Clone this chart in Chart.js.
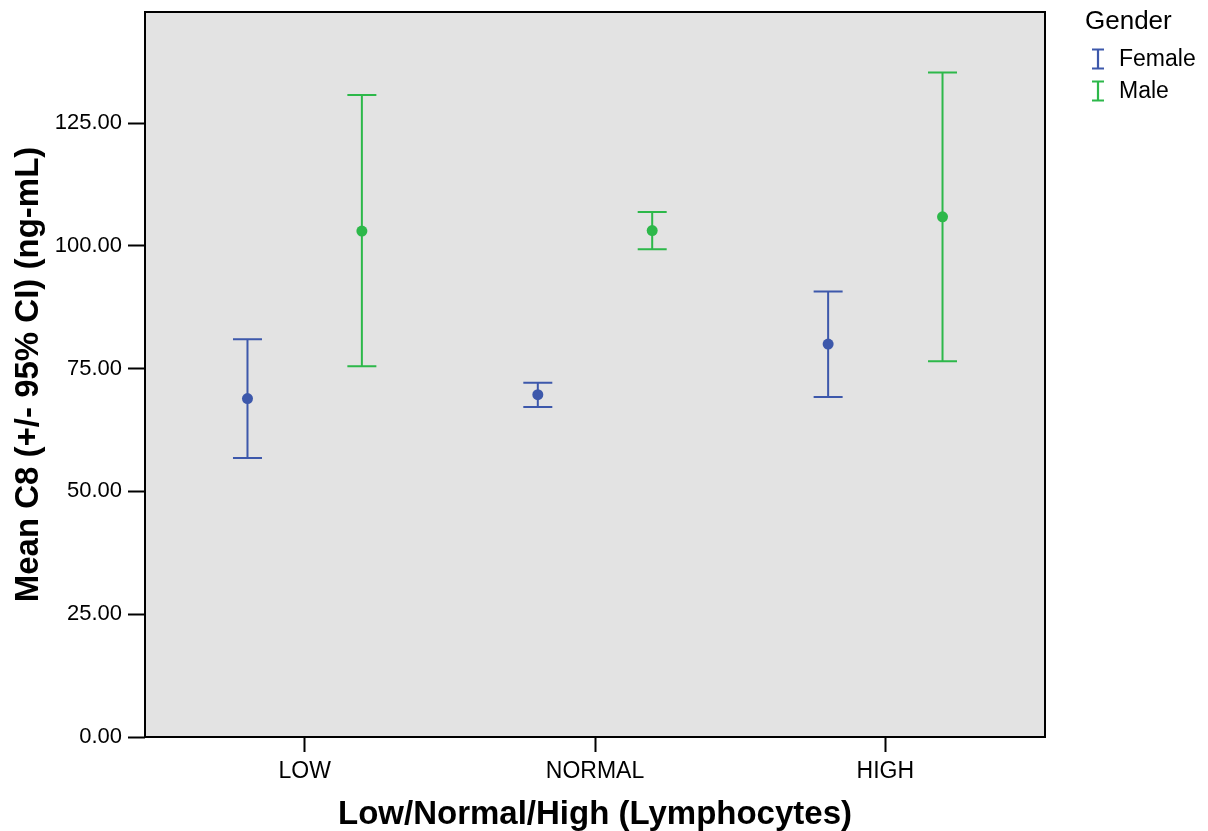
<!DOCTYPE html>
<html>
<head>
<meta charset="utf-8">
<script src="https://cdn.jsdelivr.net/npm/chart.js@4/dist/chart.umd.min.js"></script>
<style>
	html, body { margin: 0; padding: 0; background: #fff; }
</style>
</head>
<body>
<canvas id="chart" width="1208" height="831"></canvas>
<script>
// data
const categories = ['LOW', 'NORMAL', 'HIGH'];
const seriesNames = ['Female', 'Male'];
const femaleMean = [68.9, 69.7, 80.0];
const femaleLower = [56.8, 67.2, 69.2];
const femaleUpper = [81.0, 72.1, 90.7];
const maleMean = [103.0, 103.1, 105.9];
const maleLower = [75.5, 99.3, 76.5];
const maleUpper = [130.7, 106.9, 135.3];
const yTicks = [0, 25, 50, 75, 100, 125];

const blue = '#3d58ab';
const green = '#2db84a';
const font = '"Liberation Sans", Arial, sans-serif';

const toPoints = (mean, lower, upper, shift) =>
	categories.map((c, i) => ({ x: i + 1 + shift, y: mean[i], lo: lower[i], hi: upper[i] }));

// grey plot area + black frame
const frame = {
	id: 'frame',
	beforeDraw(chart) {
		const { ctx, chartArea: a } = chart;
		ctx.save();
		ctx.fillStyle = '#e3e3e3';
		ctx.fillRect(a.left, a.top, a.right - a.left, a.bottom - a.top);
		ctx.restore();
	},
	afterDraw(chart) {
		const { ctx, chartArea: a } = chart;
		ctx.save();
		ctx.strokeStyle = '#000';
		ctx.lineWidth = 2;
		ctx.strokeRect(a.left, a.top, a.right - a.left, a.bottom - a.top);
		ctx.restore();
	}
};

// 95% CI whiskers
const errorBars = {
	id: 'errorBars',
	beforeDatasetsDraw(chart) {
		const { ctx } = chart;
		const y = chart.scales.y;
		ctx.save();
		ctx.lineWidth = 2;
		chart.data.datasets.forEach((ds, di) => {
			const meta = chart.getDatasetMeta(di);
			ctx.strokeStyle = ds.borderColor;
			meta.data.forEach((el, i) => {
				const d = ds.data[i];
				const yHi = y.getPixelForValue(d.hi);
				const yLo = y.getPixelForValue(d.lo);
				ctx.beginPath();
				ctx.moveTo(el.x, yHi);
				ctx.lineTo(el.x, yLo);
				ctx.moveTo(el.x - 14.5, yHi);
				ctx.lineTo(el.x + 14.5, yHi);
				ctx.moveTo(el.x - 14.5, yLo);
				ctx.lineTo(el.x + 14.5, yLo);
				ctx.stroke();
			});
		});
		ctx.restore();
	}
};

// legend with I-beam symbols
const sideLegend = {
	id: 'sideLegend',
	afterDraw(chart) {
		const { ctx } = chart;
		ctx.save();
		ctx.fillStyle = '#000';
		ctx.textBaseline = 'middle';
		ctx.font = '26px ' + font;
		ctx.fillText('Gender', 1085, 22);
		chart.data.datasets.forEach((ds, i) => {
			const cy = 59 + i * 32;
			ctx.strokeStyle = ds.borderColor;
			ctx.lineWidth = 2.2;
			ctx.beginPath();
			ctx.moveTo(1098, cy - 9.5);
			ctx.lineTo(1098, cy + 9.5);
			ctx.moveTo(1092, cy - 9.5);
			ctx.lineTo(1104, cy - 9.5);
			ctx.moveTo(1092, cy + 9.5);
			ctx.lineTo(1104, cy + 9.5);
			ctx.stroke();
			ctx.fillStyle = '#000';
			ctx.font = '23px ' + font;
			ctx.fillText(ds.label, 1119, cy + 1);
		});
		ctx.restore();
	}
};

new Chart(document.getElementById('chart'), {
	type: 'scatter',
	data: {
		datasets: [{
			label: seriesNames[0],
			data: toPoints(femaleMean, femaleLower, femaleUpper, -0.197),
			backgroundColor: blue,
			borderColor: blue,
			pointRadius: 5.5,
			pointBorderWidth: 0
		}, {
			label: seriesNames[1],
			data: toPoints(maleMean, maleLower, maleUpper, 0.197),
			backgroundColor: green,
			borderColor: green,
			pointRadius: 5.5,
			pointBorderWidth: 0
		}]
	},
	options: {
		responsive: false,
		animation: false,
		layout: { padding: { left: 0, top: 12, right: 163, bottom: 0 } },
		plugins: {
			legend: { display: false },
			tooltip: { enabled: false }
		},
		scales: {
			x: {
				type: 'linear',
				min: 0.45,
				max: 3.55,
				afterBuildTicks: (s) => { s.ticks = categories.map((c, i) => ({ value: i + 1 })); },
				afterFit: (s) => { s.height = 94; s.paddingLeft = 0; s.paddingRight = 0; },
				ticks: {
					callback: (v) => categories[v - 1],
					color: '#000',
					font: { family: font, size: 23 },
					padding: 6,
					maxRotation: 0
				},
				grid: { drawOnChartArea: false, color: '#000', tickLength: 15, tickWidth: 2 },
				border: { display: false },
				title: {
					display: true,
					text: 'Low/Normal/High (Lymphocytes)',
					color: '#000',
					font: { family: font, size: 33, weight: 'bold' },
					padding: { top: 0, bottom: -4 }
				}
			},
			y: {
				min: 0,
				max: 147.6,
				afterBuildTicks: (s) => { s.ticks = yTicks.map(v => ({ value: v })); },
				afterFit: (s) => { s.width = 145; s.paddingTop = 0; s.paddingBottom = 0; },
				ticks: {
					callback: (v) => v.toFixed(2),
					color: '#000',
					font: { family: font, size: 22 },
					padding: 6
				},
				grid: { drawOnChartArea: false, color: '#000', tickLength: 17, tickWidth: 2 },
				border: { display: false },
				title: {
					display: true,
					text: 'Mean C8 (+/- 95% CI) (ng-mL)',
					color: '#000',
					font: { family: font, size: 33, weight: 'bold' },
					padding: { top: 9, bottom: 0 }
				}
			}
		}
	},
	plugins: [frame, errorBars, sideLegend]
});
</script>
</body>
</html>
